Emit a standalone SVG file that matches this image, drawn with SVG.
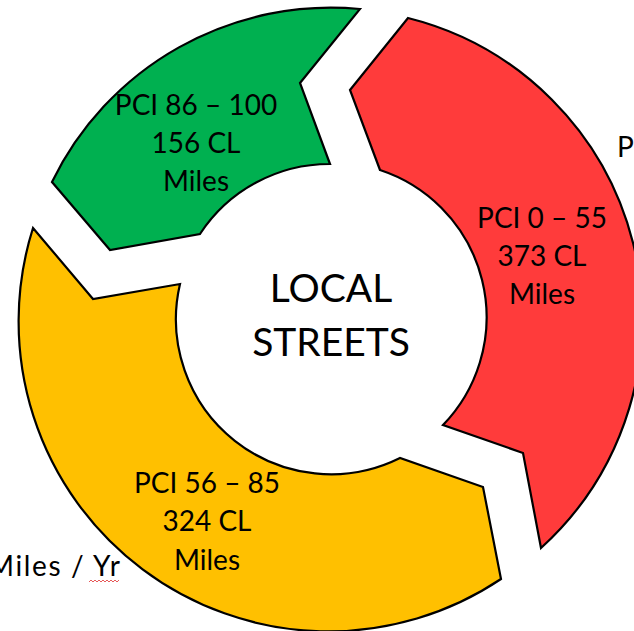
<svg xmlns="http://www.w3.org/2000/svg" width="634" height="631" viewBox="0 0 634 631">
<style>
.seg{stroke:#000;stroke-width:2.2;stroke-linejoin:miter}
.lbl{font-family:Lato,"Open Sans","Liberation Sans",sans-serif;font-size:28px;fill:#000;text-anchor:middle}
.ctr{font-family:Lato,"Open Sans","Liberation Sans",sans-serif;font-size:39px;fill:#000;text-anchor:middle}
</style>
<rect width="634" height="631" fill="#fff"/>
<g id="connectors"></g>
<g id="green">
<path class="seg" fill="#00B050" d="M52,182 A310,310 0 0 1 360,9 L300,83 L330,164 A155,155 0 0 0 200,234 L110,250 Z"/>
<text class="lbl" x="196" y="115">PCI 86 – 100</text>
<text class="lbl" x="196" y="153">156 CL</text>
<text class="lbl" x="196" y="191">Miles</text>
</g>
<g id="red">
<path class="seg" fill="#FF3B3B" d="M408,18 A310,310 0 0 1 541,548 L523,453 L443,425 A155,155 0 0 0 380,170 L350,90 Z"/>
<text class="lbl" x="542" y="228">PCI 0 – 55</text>
<text class="lbl" x="542" y="266">373 CL</text>
<text class="lbl" x="542" y="304">Miles</text>
</g>
<g id="yellow">
<path class="seg" fill="#FFC000" d="M501,579 A310,310 0 0 1 33,228 L93,299 L180,284 A155,155 0 0 0 400,458 L483,487 Z"/>
<text class="lbl" x="207" y="493">PCI 56 – 85</text>
<text class="lbl" x="207" y="531">324 CL</text>
<text class="lbl" x="207" y="570">Miles</text>
</g>
<g id="center">
<text class="ctr" x="331" y="302">LOCAL</text>
<text class="ctr" x="331" y="356">STREETS</text>
</g>
<g id="side-labels">
<text class="lbl" x="617" y="157" style="text-anchor:start">P</text>
<text class="lbl" x="-12" y="576" style="text-anchor:start" textLength="132" lengthAdjust="spacing">Miles / Yr</text>
<path d="M89,582 l2,-2 l2,2 l2,-2 l2,2 l2,-2 l2,2 l2,-2 l2,2 l2,-2 l2,2 l2,-2 l2,2 l2,-2 l2,2 l2,-2" fill="none" stroke="#e03030" stroke-width="0.8"/>
</g>
</svg>
